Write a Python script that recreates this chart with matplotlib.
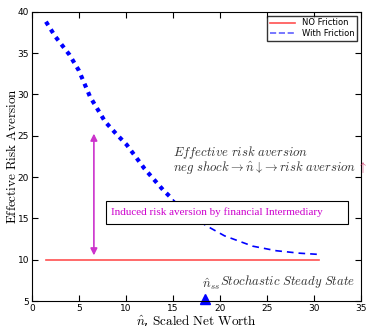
import numpy as np
import matplotlib
matplotlib.use("Agg")
import matplotlib.pyplot as plt
from matplotlib.patches import Rectangle

plt.rcParams['mathtext.fontset'] = 'cm'

# with friction curve
n_steep = [1.5, 2.5, 4.0, 5.0, 6.2, 7.8, 9.0, 10.1, 12.0, 14.0, 15.0]
ra_steep = [38.8, 37.0, 34.8, 32.9, 29.7, 26.7, 25.2, 23.9, 21.0, 18.4, 17.3]
n_flat = [15.0, 16.5, 18.6, 20.5, 23.5, 26.0, 28.5, 30.6]
ra_flat = [17.3, 15.6, 14.1, 12.9, 11.65, 11.1, 10.8, 10.65]

# no friction
n_nf = [1.5, 30.5]
ra_nf = [10.0, 10.0]

n_ss = 18.4

fig = plt.figure(figsize=(3.66, 3.27), dpi=100)
ax = fig.add_axes([0.087, 0.079, 0.899, 0.885])

ax.plot(n_nf, ra_nf, color='#ff5050', lw=1.2, label='NO Friction')
ax.plot(n_steep, ra_steep, color='blue', lw=3, ls=(0, (1, 1.2)))
ax.plot(n_flat, ra_flat, color='blue', lw=1.2, ls=(0, (4, 3)))
ax.plot([], [], color='#6060ff', lw=1.2, ls='--', label='With Friction')

ax.annotate('', xy=(6.6, 10.2), xytext=(6.6, 25.6),
            arrowprops=dict(arrowstyle='<|-|>', color='#cc33cc', lw=1.2,
                            mutation_scale=10))
ax.add_patch(Rectangle((7.9, 14.3), 25.7, 2.8, fc='white', ec='black', lw=0.8, zorder=3))
ax.text(8.4, 15.75, 'Induced risk aversion by financial Intermediary',
        color='#cc00cc', family='Liberation Serif', fontsize=8, va='center', zorder=4)

ax.text(15.0, 22.6, r'$Effective\ risk\ aversion$', fontsize=9.2, color='#333333')
ax.text(15.0, 20.7, r'$neg\ shock \rightarrow \hat{n} \downarrow\!\rightarrow risk\ aversion$',
        fontsize=9.2, color='#333333')
ax.text(34.55, 20.7, r'$\uparrow$', fontsize=8.5, color='#cc3366', clip_on=False)

ax.plot([n_ss], [5.3], marker='^', color='blue', ms=7, clip_on=False)
ax.text(18.1, 6.6, r'$\hat{n}_{ss}$', fontsize=9.2, color='#333333')
ax.text(20.0, 7.0, r'$Stochastic\ Steady\ State$', fontsize=9.2, color='#333333')

ax.set_xlim(0, 35)
ax.set_ylim(5, 40)
ax.set_xticks(np.arange(0, 36, 5))
ax.set_yticks(np.arange(5, 41, 5))
ax.tick_params(direction='in', top=True, right=True, labelsize=6.5, length=4, pad=2)
ax.set_xlabel(r'$\hat{n}$, $\mathrm{Scaled\ Net\ Worth}$', fontsize=9.5, labelpad=0)
ax.set_ylabel(r'$\mathrm{Effective\ Risk\ Aversion}$', fontsize=9.5, labelpad=-1)
ax.legend(loc='upper right', fontsize=6, frameon=True, fancybox=False,
          edgecolor='black', handlelength=3, borderpad=0.3, labelspacing=0.2)

plt.savefig('out.png', dpi=100)
